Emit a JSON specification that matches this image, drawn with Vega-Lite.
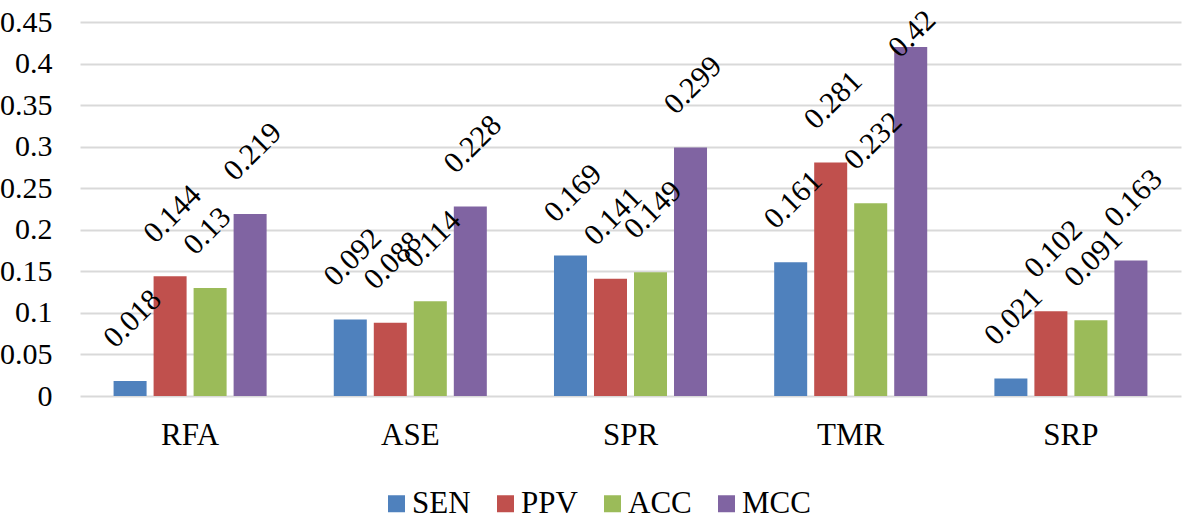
{
  "$schema": "https://vega.github.io/schema/vega-lite/v6.json",
  "width": 1101,
  "height": 374,
  "autosize": {"type": "none"},
  "padding": {"left": 80, "top": 22, "right": 3, "bottom": 125},
  "background": "white",
  "config": {"view": {"stroke": null}, "font": "Times New Roman"},
  "data": {
    "values": [
      {"method": "RFA", "metric": "SEN", "score": 0.018},
      {"method": "RFA", "metric": "PPV", "score": 0.144},
      {"method": "RFA", "metric": "ACC", "score": 0.13},
      {"method": "RFA", "metric": "MCC", "score": 0.219},
      {"method": "ASE", "metric": "SEN", "score": 0.092},
      {"method": "ASE", "metric": "PPV", "score": 0.088},
      {"method": "ASE", "metric": "ACC", "score": 0.114},
      {"method": "ASE", "metric": "MCC", "score": 0.228},
      {"method": "SPR", "metric": "SEN", "score": 0.169},
      {"method": "SPR", "metric": "PPV", "score": 0.141},
      {"method": "SPR", "metric": "ACC", "score": 0.149},
      {"method": "SPR", "metric": "MCC", "score": 0.299},
      {"method": "TMR", "metric": "SEN", "score": 0.161},
      {"method": "TMR", "metric": "PPV", "score": 0.281},
      {"method": "TMR", "metric": "ACC", "score": 0.232},
      {"method": "TMR", "metric": "MCC", "score": 0.42},
      {"method": "SRP", "metric": "SEN", "score": 0.021},
      {"method": "SRP", "metric": "PPV", "score": 0.102},
      {"method": "SRP", "metric": "ACC", "score": 0.091},
      {"method": "SRP", "metric": "MCC", "score": 0.163}
    ]
  },
  "encoding": {
    "x": {
      "field": "method",
      "type": "nominal",
      "sort": ["RFA", "ASE", "SPR", "TMR", "SRP"],
      "scale": {"paddingInner": 0.305, "paddingOuter": 0.1525},
      "axis": {
        "title": null,
        "labelAngle": 0,
        "ticks": false,
        "domain": false,
        "labelFont": "Times New Roman",
        "labelFontSize": 31,
        "labelColor": "#000000",
        "labelPadding": 24
      }
    },
    "xOffset": {
      "field": "metric",
      "type": "nominal",
      "sort": ["SEN", "PPV", "ACC", "MCC"],
      "scale": {"paddingInner": 0.175, "paddingOuter": 0}
    },
    "y": {
      "field": "score",
      "type": "quantitative",
      "scale": {"domain": [0, 0.45], "nice": false},
      "axis": {
        "title": null,
        "values": [0, 0.05, 0.1, 0.15, 0.2, 0.25, 0.3, 0.35, 0.4, 0.45],
        "format": ".2~f",
        "domain": false,
        "ticks": false,
        "labelFont": "Times New Roman",
        "labelFontSize": 30,
        "labelColor": "#000000",
        "labelPadding": 28,
        "gridColor": "#d9d9d9",
        "gridWidth": 2
      }
    }
  },
  "layer": [
    {
      "mark": {"type": "bar"},
      "encoding": {
        "color": {
          "field": "metric",
          "type": "nominal",
          "sort": ["SEN", "PPV", "ACC", "MCC"],
          "scale": {
            "domain": ["SEN", "PPV", "ACC", "MCC"],
            "range": ["#4F81BD", "#C0504D", "#9BBB59", "#8064A2"]
          },
          "legend": {
            "title": null,
            "orient": "none",
            "direction": "horizontal",
            "legendX": 301,
            "legendY": 466,
            "padding": 0,
            "symbolType": "square",
            "symbolSize": 289,
            "symbolStrokeWidth": 0,
            "labelFont": "Times New Roman",
            "labelFontSize": 31,
            "labelColor": "#000000",
            "labelOffset": 0,
            "columnPadding": 19
          }
        }
      }
    },
    {
      "mark": {
        "type": "text",
        "angle": -45,
        "align": "left",
        "baseline": "middle",
        "font": "Times New Roman",
        "fontSize": 30,
        "color": "#000000",
        "dx": {"expr": "datum.score > 0.4 ? -16 : 12"},
        "dy": {"expr": "datum.score > 0.4 ? -8 : -42"}
      },
      "encoding": {
        "text": {"field": "score", "type": "nominal"}
      }
    }
  ]
}
